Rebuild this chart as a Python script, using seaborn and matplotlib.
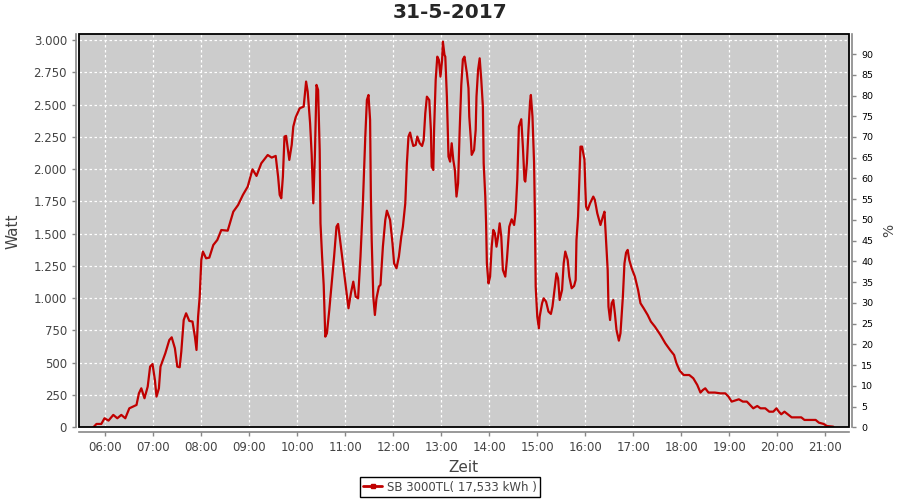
import numpy as np
import pandas as pd
import seaborn as sns
import matplotlib.pyplot as plt
from matplotlib.patches import Rectangle
from matplotlib.lines import Line2D

sns.set_style("whitegrid", {"axes.facecolor": "#cccccc", "grid.color": "white",
                            "grid.linestyle": (0, (2, 2))})
plt.rcParams['font.family'] = ['DejaVu Sans']

title = "31-5-2017"
series_name = "SB 3000TL( 17,533 kWh )"

times = [
    "05:45", "05:49", "05:55", "05:59", "06:04", "06:10", "06:15", "06:20", "06:25", "06:30",
    "06:39", "06:42", "06:45", "06:49", "06:53", "06:56", "06:59", "07:02", "07:04", "07:07",
    "07:09", "07:12", "07:15", "07:20", "07:23", "07:27", "07:30", "07:33", "07:35", "07:38",
    "07:41", "07:45", "07:49", "07:52", "07:54", "07:56", "07:58", "08:00", "08:02", "08:06",
    "08:10", "08:15", "08:20", "08:25", "08:33", "08:40", "08:46", "08:52", "08:58", "09:04",
    "09:09", "09:15", "09:23", "09:28", "09:33", "09:36", "09:38", "09:40", "09:42", "09:44",
    "09:46", "09:50", "09:53", "09:55", "09:58", "10:03", "10:08", "10:11", "10:13", "10:16",
    "10:18", "10:20", "10:22", "10:24", "10:26", "10:28", "10:29", "10:31", "10:33", "10:35",
    "10:37", "10:40", "10:43", "10:46", "10:49", "10:51", "10:54", "10:57", "11:01", "11:04",
    "11:07", "11:10", "11:13", "11:16", "11:19", "11:22", "11:25", "11:27", "11:29", "11:31",
    "11:32", "11:33", "11:35", "11:37", "11:39", "11:42", "11:44", "11:47", "11:50", "11:52",
    "11:56", "11:59", "12:01", "12:04", "12:07", "12:10", "12:12", "12:15", "12:17", "12:19",
    "12:21", "12:23", "12:25", "12:28", "12:30", "12:33", "12:36", "12:38", "12:40", "12:42",
    "12:45", "12:47", "12:48", "12:50", "12:51", "12:53", "12:55", "12:57", "12:59", "13:01",
    "13:02", "13:04", "13:05", "13:07", "13:09", "13:11", "13:13", "13:15", "13:17", "13:19",
    "13:21", "13:23", "13:25", "13:27", "13:29", "13:32", "13:34", "13:35", "13:37", "13:38",
    "13:41", "13:43", "13:44", "13:46", "13:48", "13:50", "13:52", "13:53", "13:55", "13:56",
    "13:57", "13:59", "14:01", "14:03", "14:05", "14:07", "14:09", "14:11", "14:13", "14:15",
    "14:17", "14:20", "14:22", "14:25", "14:28", "14:31", "14:33", "14:35", "14:37", "14:40",
    "14:42", "14:44", "14:45", "14:47", "14:49", "14:51", "14:52", "14:54", "14:56", "14:57",
    "14:58", "15:00", "15:02", "15:03", "15:06", "15:08", "15:11", "15:14", "15:17", "15:19",
    "15:22", "15:24", "15:26", "15:28", "15:31", "15:33", "15:35", "15:38", "15:40", "15:43",
    "15:46", "15:48", "15:49", "15:51", "15:52", "15:54", "15:56", "15:59", "16:00", "16:01",
    "16:03", "16:06", "16:10", "16:12", "16:15", "16:19", "16:22", "16:24", "16:26", "16:28",
    "16:29", "16:31", "16:33", "16:35", "16:37", "16:39", "16:42", "16:44", "16:47", "16:49",
    "16:51", "16:53", "16:55", "16:58", "17:02", "17:06", "17:09", "17:13", "17:18", "17:22",
    "17:27", "17:34", "17:40", "17:46", "17:51", "17:54", "17:58", "18:03", "18:10", "18:15",
    "18:20", "18:24", "18:27", "18:30", "18:34", "18:42", "18:49", "18:55", "18:59", "19:03",
    "19:07", "19:12", "19:17", "19:22", "19:26", "19:30", "19:35", "19:39", "19:45", "19:50",
    "19:55", "19:59", "20:02", "20:05", "20:09", "20:14", "20:18", "20:25", "20:30", "20:34",
    "20:41", "20:48", "20:52", "20:58", "21:02", "21:10",
]

watts = [
    0, 26, 26, 70, 52, 96, 70, 96, 70, 147,
    173, 263, 302, 225, 315, 470, 490, 367, 238, 302,
    470, 522, 573, 676, 697, 612, 470, 465, 586, 831,
    883, 824, 819, 702, 599, 857, 1012, 1296, 1361, 1309,
    1314, 1412, 1451, 1528, 1523, 1670, 1722, 1800, 1864, 1998,
    1947, 2045, 2109, 2089, 2102, 1942, 1800, 1774, 1942, 2252,
    2257, 2071, 2187, 2329, 2401, 2471, 2484, 2678, 2600, 2355,
    2110, 1735, 2110, 2652, 2613, 2148, 1580, 1322, 1103, 702,
    728, 909, 1115, 1322, 1554, 1575, 1425, 1270, 1077, 922,
    1038, 1128, 1012, 999, 1322, 1735, 2252, 2535, 2574, 2381,
    1787, 1451, 1012, 870, 999, 1090, 1103, 1399, 1606, 1678,
    1606, 1425, 1270, 1232, 1322, 1477, 1554, 1735, 2045, 2252,
    2283, 2226, 2179, 2187, 2252, 2200, 2179, 2226, 2432, 2561,
    2535, 2303, 2019, 1993, 2303, 2690, 2871, 2845, 2716, 2845,
    2987, 2884, 2871, 2561, 2097, 2058, 2200, 2071, 1993, 1787,
    1890, 2303, 2650, 2850, 2871, 2742, 2626, 2406, 2226, 2110,
    2148, 2303, 2561, 2768, 2858, 2690, 2484, 2045, 1787, 1580,
    1270, 1115, 1167, 1399, 1529, 1503, 1399, 1477, 1580, 1477,
    1219, 1167, 1296, 1554, 1611, 1567, 1670, 1916, 2329, 2386,
    2174, 1916, 1903, 2045, 2303, 2523, 2574, 2406, 2045, 1658,
    1090, 857, 767, 857, 961, 999, 973, 896, 878, 935,
    1090, 1193, 1154, 986, 1064, 1270, 1361, 1296, 1167, 1077,
    1095, 1141, 1451, 1632, 1813, 2174, 2174, 2071, 1864, 1709,
    1683, 1735, 1787, 1761, 1658, 1567, 1632, 1670, 1438, 1219,
    935, 831, 961, 986, 883, 754, 671, 728, 1012, 1270,
    1353, 1374, 1296, 1232, 1167, 1064, 961, 922, 870, 819,
    780, 715, 651, 599, 560, 496, 439, 405, 405, 380,
    328, 269, 289, 302, 269, 269, 263, 263, 238, 199,
    207, 217, 199, 199, 173, 147, 165, 147, 147, 121,
    121, 147, 121, 101, 121, 96, 77, 77, 77, 57,
    57, 57, 36, 26, 10, 5,
]

hour_ticks = list(range(6, 22))
watt_ticks = list(range(0, 3001, 250))
pct_ticks = list(range(0, 91, 5))

df = pd.DataFrame({"time": times, "watt": watts})
t = pd.to_datetime(df["time"], format="%H:%M")
df["hour"] = t.dt.hour + t.dt.minute / 60

red = "#c00000"
axis_gray = "#888888"
text_gray = "#444444"

fig = plt.figure(figsize=(9, 5), dpi=100)
ax = fig.add_axes([0.0881, 0.1454, 0.8552, 0.786])
sns.lineplot(data=df, x="hour", y="watt", ax=ax, color=red, linewidth=1.6,
             estimator=None, sort=False, legend=False)

ax.set_xlim(5.458, 21.494)
ax.set_ylim(0, 3044)
ax.set_xticks(hour_ticks)
ax.set_xticklabels([f"{h:02d}:00" for h in hour_ticks])
ax.set_yticks(watt_ticks)
ax.set_yticklabels([f"{v:,}".replace(",", ".") for v in watt_ticks])
ax.grid(True, color="white", linestyle=(0, (2, 2)), linewidth=0.9)
ax.tick_params(axis="both", colors=axis_gray, labelcolor=text_gray, labelsize=8.5,
               length=3, width=1, direction="out", left=True, bottom=True)
ax.set_xlabel("Zeit", fontsize=11, color=text_gray)
ax.set_ylabel("Watt", fontsize=11, color=text_gray)
ax.xaxis.set_label_coords(0.4985, -0.083)
ax.yaxis.set_label_coords(-0.077, 0.5)

for side in ["top", "right"]:
    ax.spines[side].set_visible(False)
ax.spines["left"].set_position(("outward", 2.4))
ax.spines["bottom"].set_position(("outward", 3.2))
for side in ["left", "bottom"]:
    ax.spines[side].set_color(axis_gray)
    ax.spines[side].set_linewidth(1.2)

ax2 = ax.twinx()
ax2.set_ylim(0, 94.76)
ax2.set_yticks(pct_ticks)
ax2.grid(False)
ax2.tick_params(axis="y", colors=axis_gray, labelcolor="black", labelsize=6.8,
                length=3, width=1, direction="out", right=True)
ax2.set_ylabel("%", fontsize=10, color=text_gray)
ax2.yaxis.set_label_coords(1.043, 0.5)
for side in ["top", "left", "bottom"]:
    ax2.spines[side].set_visible(False)
ax2.spines["right"].set_position(("outward", 2.4))
ax2.spines["right"].set_color(axis_gray)
ax2.spines["right"].set_linewidth(1.2)

ax2.add_patch(Rectangle((0, 0), 1, 1, transform=ax.transAxes, fill=False,
                        edgecolor="black", linewidth=1.3, clip_on=False, zorder=5))

fig.suptitle(title, x=0.5, y=0.995, fontsize=14.5, fontweight="bold", va="top")

handle = Line2D([], [], color=red, linewidth=2, marker="s", markersize=2.5)
leg = fig.legend([handle], [series_name], loc="center", bbox_to_anchor=(0.5, 0.026),
                 frameon=True, fancybox=False, edgecolor="black", facecolor="white",
                 framealpha=1, fontsize=8.5, handlelength=1.6, handletextpad=0.4,
                 borderpad=0.3)
leg.get_frame().set_linewidth(1.0)
for txt in leg.get_texts():
    txt.set_color(text_gray)

fig.savefig("out.png", dpi=100, facecolor="white")
